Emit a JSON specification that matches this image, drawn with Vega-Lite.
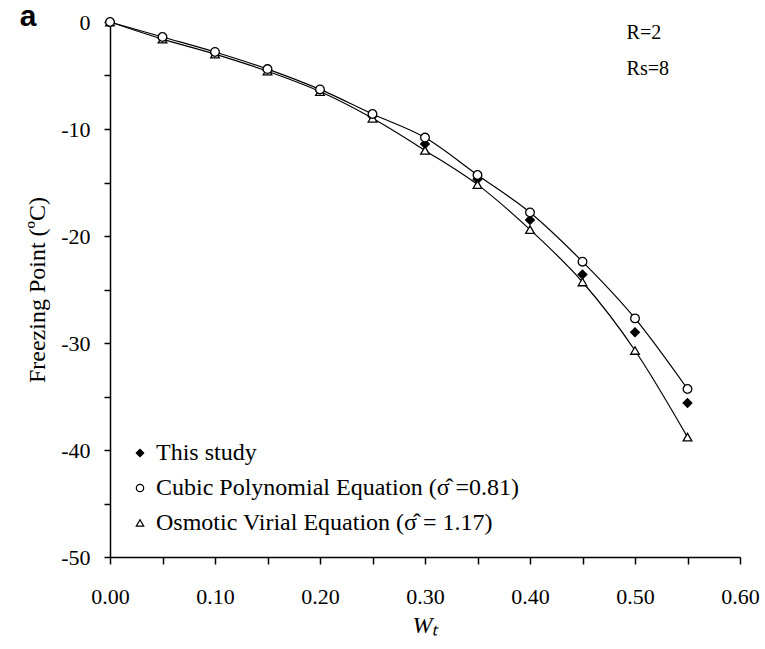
{
  "$schema": "https://vega.github.io/schema/vega-lite/v6.json",
  "width": 630,
  "height": 535,
  "autosize": "none",
  "padding": {"left": 110, "top": 22, "right": 25, "bottom": 92},
  "background": "white",
  "config": {
    "view": {"stroke": null},
    "font": "Liberation Serif"
  },
  "datasets": {
    "pts": [
      {"series": "This study", "wt": 0.00, "fp": 0.0},
      {"series": "This study", "wt": 0.05, "fp": -1.5},
      {"series": "This study", "wt": 0.10, "fp": -2.9},
      {"series": "This study", "wt": 0.15, "fp": -4.5},
      {"series": "This study", "wt": 0.20, "fp": -6.4},
      {"series": "This study", "wt": 0.25, "fp": -8.8},
      {"series": "This study", "wt": 0.30, "fp": -11.4},
      {"series": "This study", "wt": 0.35, "fp": -14.7},
      {"series": "This study", "wt": 0.40, "fp": -18.5},
      {"series": "This study", "wt": 0.45, "fp": -23.6},
      {"series": "This study", "wt": 0.50, "fp": -29.0},
      {"series": "This study", "wt": 0.55, "fp": -35.6},
      {"series": "Cubic Polynomial Equation (σ̂ =0.81)", "wt": 0.00, "fp": 0.0},
      {"series": "Cubic Polynomial Equation (σ̂ =0.81)", "wt": 0.05, "fp": -1.4},
      {"series": "Cubic Polynomial Equation (σ̂ =0.81)", "wt": 0.10, "fp": -2.8},
      {"series": "Cubic Polynomial Equation (σ̂ =0.81)", "wt": 0.15, "fp": -4.4},
      {"series": "Cubic Polynomial Equation (σ̂ =0.81)", "wt": 0.20, "fp": -6.3},
      {"series": "Cubic Polynomial Equation (σ̂ =0.81)", "wt": 0.25, "fp": -8.6},
      {"series": "Cubic Polynomial Equation (σ̂ =0.81)", "wt": 0.30, "fp": -10.8},
      {"series": "Cubic Polynomial Equation (σ̂ =0.81)", "wt": 0.35, "fp": -14.3},
      {"series": "Cubic Polynomial Equation (σ̂ =0.81)", "wt": 0.40, "fp": -17.8},
      {"series": "Cubic Polynomial Equation (σ̂ =0.81)", "wt": 0.45, "fp": -22.4},
      {"series": "Cubic Polynomial Equation (σ̂ =0.81)", "wt": 0.50, "fp": -27.7},
      {"series": "Cubic Polynomial Equation (σ̂ =0.81)", "wt": 0.55, "fp": -34.3},
      {"series": "Osmotic Virial Equation (σ̂ = 1.17)", "wt": 0.00, "fp": 0.0},
      {"series": "Osmotic Virial Equation (σ̂ = 1.17)", "wt": 0.05, "fp": -1.6},
      {"series": "Osmotic Virial Equation (σ̂ = 1.17)", "wt": 0.10, "fp": -3.0},
      {"series": "Osmotic Virial Equation (σ̂ = 1.17)", "wt": 0.15, "fp": -4.6},
      {"series": "Osmotic Virial Equation (σ̂ = 1.17)", "wt": 0.20, "fp": -6.5},
      {"series": "Osmotic Virial Equation (σ̂ = 1.17)", "wt": 0.25, "fp": -9.0},
      {"series": "Osmotic Virial Equation (σ̂ = 1.17)", "wt": 0.30, "fp": -12.0},
      {"series": "Osmotic Virial Equation (σ̂ = 1.17)", "wt": 0.35, "fp": -15.2},
      {"series": "Osmotic Virial Equation (σ̂ = 1.17)", "wt": 0.40, "fp": -19.4},
      {"series": "Osmotic Virial Equation (σ̂ = 1.17)", "wt": 0.45, "fp": -24.3},
      {"series": "Osmotic Virial Equation (σ̂ = 1.17)", "wt": 0.50, "fp": -30.7},
      {"series": "Osmotic Virial Equation (σ̂ = 1.17)", "wt": 0.55, "fp": -38.8}
    ],
    "notes": [
      {"label": "R=2", "wt": 0.492, "fp": -1.0},
      {"label": "Rs=8", "wt": 0.492, "fp": -4.4}
    ],
    "panel": [
      {"label": "a", "wt": -0.078, "fp": 0.5}
    ]
  },
  "layer": [
    {
      "data": {"name": "pts"},
      "transform": [{"filter": "datum.series !== 'This study'"}],
      "mark": {"type": "line", "interpolate": "monotone", "color": "black", "strokeWidth": 1.2},
      "encoding": {
        "x": {"field": "wt", "type": "quantitative"},
        "y": {"field": "fp", "type": "quantitative"},
        "detail": {"field": "series"}
      }
    },
    {
      "data": {"name": "pts"},
      "mark": {"type": "point", "filled": true, "strokeWidth": 1.3, "size": 75, "opacity": 1},
      "encoding": {
        "x": {
          "field": "wt", "type": "quantitative",
          "scale": {"domain": [0, 0.6], "nice": false, "zero": false},
          "axis": {
            "values": [0, 0.05, 0.1, 0.15, 0.2, 0.25, 0.3, 0.35, 0.4, 0.45, 0.5, 0.55, 0.6],
            "labelExpr": "round(datum.value*100) % 10 === 0 ? format(datum.value, '.2f') : ''",
            "grid": false, "domainColor": "black", "domainWidth": 1.5,
            "tickColor": "black", "tickWidth": 1.5, "tickSize": 7,
            "labelFont": "Liberation Serif", "labelFontSize": 22, "labelColor": "black",
            "labelPadding": 22, "labelFlush": false,
            "title": "Wₜ", "titleFont": "Liberation Serif", "titleFontSize": 24,
            "titleFontStyle": "italic", "titleFontWeight": "normal", "titleColor": "black",
            "titlePadding": 6
          }
        },
        "y": {
          "field": "fp", "type": "quantitative",
          "scale": {"domain": [-50, 0], "nice": false, "zero": false},
          "axis": {
            "values": [0, -5, -10, -15, -20, -25, -30, -35, -40, -45, -50],
            "labelExpr": "datum.value % 10 === 0 ? '' + datum.value : ''",
            "grid": false, "domainColor": "black", "domainWidth": 1.5,
            "tickColor": "black", "tickWidth": 1.5, "tickSize": 6,
            "labelFont": "Liberation Serif", "labelFontSize": 22, "labelColor": "black",
            "labelPadding": 14, "labelFlush": false,
            "title": "Freezing Point (ºC)", "titleFont": "Liberation Serif", "titleFontSize": 24,
            "titleFontWeight": "normal", "titleColor": "black", "titlePadding": 11
          }
        },
        "shape": {
          "field": "series", "type": "nominal",
          "scale": {
            "domain": ["This study", "Cubic Polynomial Equation (σ̂ =0.81)", "Osmotic Virial Equation (σ̂ = 1.17)"],
            "range": ["diamond", "circle", "triangle-up"]
          },
          "legend": {
            "orient": "none", "legendX": 18, "legendY": 419, "title": null,
            "labelFont": "Liberation Serif", "labelFontSize": 24, "labelColor": "black",
            "symbolSize": 55, "symbolStrokeColor": "black", "symbolStrokeWidth": 1.2,
            "rowPadding": 11, "labelOffset": 4, "labelLimit": 500,
            "symbolOpacity": 1,
            "encode": {"symbols": {"update": {"stroke": {"value": "black"}, "strokeWidth": {"value": 1.2}, "opacity": {"value": 1}}}}
          }
        },
        "fill": {
          "field": "series", "type": "nominal",
          "scale": {
            "domain": ["This study", "Cubic Polynomial Equation (σ̂ =0.81)", "Osmotic Virial Equation (σ̂ = 1.17)"],
            "range": ["black", "white", "white"]
          },
          "legend": {
            "orient": "none", "legendX": 18, "legendY": 419, "title": null,
            "labelFont": "Liberation Serif", "labelFontSize": 24, "labelColor": "black",
            "symbolSize": 55, "symbolStrokeColor": "black", "symbolStrokeWidth": 1.2,
            "rowPadding": 11, "labelOffset": 4, "labelLimit": 500,
            "symbolOpacity": 1,
            "encode": {"symbols": {"update": {"stroke": {"value": "black"}, "strokeWidth": {"value": 1.2}, "opacity": {"value": 1}}}}
          }
        },
        "stroke": {"value": "black"},
        "order": {"field": "series", "sort": "descending"}
      }
    },
    {
      "data": {"name": "notes"},
      "mark": {"type": "text", "align": "left", "baseline": "middle", "font": "Liberation Serif", "fontSize": 20, "color": "black"},
      "encoding": {
        "x": {"field": "wt", "type": "quantitative"},
        "y": {"field": "fp", "type": "quantitative"},
        "text": {"field": "label"}
      }
    },
    {
      "data": {"name": "panel"},
      "mark": {"type": "text", "align": "center", "baseline": "middle", "font": "Liberation Sans", "fontWeight": "bold", "fontSize": 30, "color": "black", "clip": false},
      "encoding": {
        "x": {"field": "wt", "type": "quantitative"},
        "y": {"field": "fp", "type": "quantitative"},
        "text": {"field": "label"}
      }
    }
  ]
}
